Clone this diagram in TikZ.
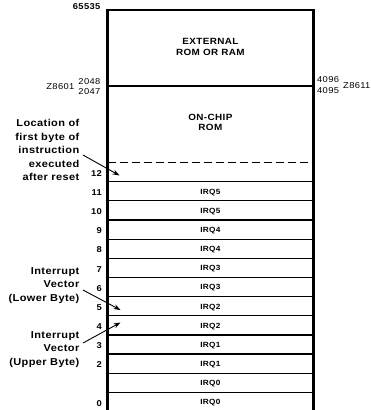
\documentclass[tikz,border=0pt]{standalone}
\usepackage{fontspec}
\newfontfamily\lbl[FakeStretch=1.1,LetterSpace=4]{Liberation Sans}
\usetikzlibrary{arrows.meta}
\begin{document}
\begin{tikzpicture}[x=1pt,y=-1pt,
  side/.style={font=\lbl\bfseries\fontsize{10}{13.5}\selectfont, align=right, inner sep=0pt, anchor=east},
  num/.style={font=\lbl\bfseries\fontsize{8.5}{10}\selectfont, inner sep=0pt, anchor=east},
  addr/.style={font=\lbl\fontsize{8.5}{10}\selectfont, inner sep=0pt},
  irq/.style={font=\lbl\bfseries\fontsize{7.5}{9}\selectfont, inner sep=0pt},
  region/.style={font=\lbl\bfseries\fontsize{9}{10.5}\selectfont, align=center, inner sep=0pt},
  rowline/.style={line width=1.2pt},
  pointer/.style={line width=0.9pt, -{Stealth[length=7pt,width=5pt]}}
]
\useasboundingbox (0,0) rectangle (371,410);
% memory box
\draw[line width=2.5pt] (107.5,411) -- (107.5,10) -- (313.3,10) -- (313.3,411);
\draw[line width=3.2pt] (107.5,411) -- (107.5,10);
\draw[rowline] (107.5,86) -- (313.3,86);
\draw[line width=1.2pt, dash pattern=on 8pt off 4pt] (107.5,162.7) -- (313.3,162.7);
\foreach \r in {0,...,11}{
  \draw[rowline] (107.5,{181.7+19.15*\r}) -- (313.3,{181.7+19.15*\r});
}
% regions
\node[region] (ext) at (210.4,47) {EXTERNAL\\ROM OR RAM};
\node[region] (onchip) at (210.4,122.5) {ON-CHIP\\ROM};
% irq rows
\foreach \r/\lab in {0/IRQ5,1/IRQ5,2/IRQ4,3/IRQ4,4/IRQ3,5/IRQ3,6/IRQ2,7/IRQ2,8/IRQ1,9/IRQ1,10/IRQ0,11/IRQ0}{
  \node[irq] (irq\r) at (210.4,{181.7+19.15*(\r+0.5)+1}) {\lab};
}
% row numbers
\node[num] (n12) at (102,173.5) {12};
\foreach \r/\n in {0/11,1/10,2/9,3/8,4/7,5/6,6/5,7/4,8/3,9/2,11/0}{
  \node[num] (n\n) at (102,{181.7+19.15*(\r+0.5)+1.2}) {\n};
}
% addresses
\node[num] (top) at (100.5,7) {65535};
\node[addr, anchor=east] (a2048) at (100.5,82) {2048};
\node[addr, anchor=east] (a2047) at (100.5,92) {2047};
\node[addr, anchor=east] (z8601) at (74.5,87) {Z8601};
\node[addr, anchor=west] (a4096) at (317,80) {4096};
\node[addr, anchor=west] (a4095) at (317,91) {4095};
\node[addr, anchor=west] (z8611) at (343,86) {Z8611};
% side labels
\node[side] (loc) at (79.5,150) {Location of\\first byte of\\instruction\\executed\\after reset};
\node[side] (lower) at (79.5,285.3) {Interrupt\\Vector\\(Lower Byte)};
\node[side] (upper) at (79.5,349.5) {Interrupt\\Vector\\(Upper Byte)};
% pointers
\coordinate (p1s) at (83,155);
\coordinate (p1e) at (119.5,175.5);
\coordinate (p2s) at (83,290);
\coordinate (p2e) at (120.5,310);
\coordinate (p3s) at (83,343);
\coordinate (p3e) at (120.5,322.5);
\draw[pointer] (p1s) -- (p1e);
\draw[pointer] (p2s) -- (p2e);
\draw[pointer] (p3s) -- (p3e);
\end{tikzpicture}
\end{document}
